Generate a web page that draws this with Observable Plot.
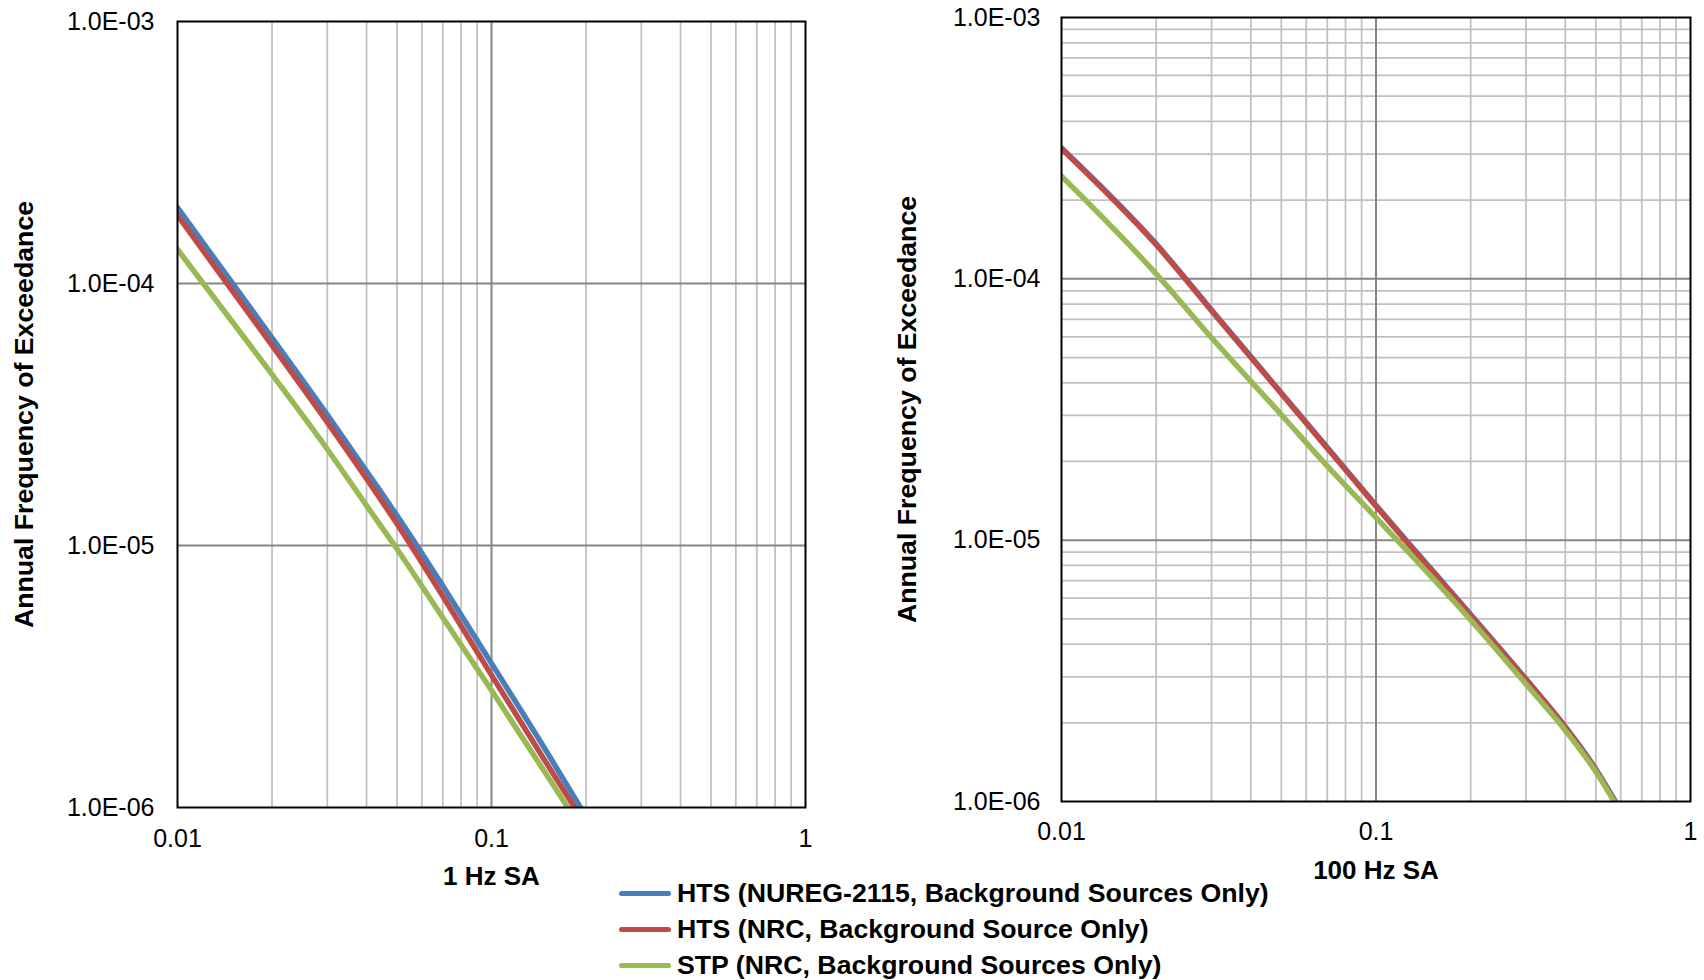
<!DOCTYPE html>
<html>
<head>
<meta charset="utf-8">
<script src="https://cdn.jsdelivr.net/npm/d3@7"></script>
<script src="https://cdn.jsdelivr.net/npm/@observablehq/plot@0.6"></script>
<style>
  html, body { margin: 0; padding: 0; background: #fff; }
  #wrap { position: relative; width: 1704px; height: 980px; font-family: "Liberation Sans", Arial, sans-serif; }
  #left, #right { position: absolute; top: 0; }
  #left { left: 0; }
  #right { left: 852px; }
  #legend { position: absolute; left: 619px; top: 875px; }
  .row { display: flex; align-items: center; height: 36px; }
  .sw { width: 52px; height: 5px; border-radius: 3px; margin-right: 6px; }
  .lt { font-size: 26.7px; font-weight: bold; color: #000; white-space: nowrap; }
</style>
</head>
<body>
<div id="wrap">
  <div id="left"></div>
  <div id="right"></div>
  <div id="legend"></div>
</div>
<script>
// ---- Data ----
const seriesNames = [
  "HTS (NUREG-2115, Background Sources Only)",
  "HTS (NRC, Background Source Only)",
  "STP (NRC, Background Sources Only)"
];
const seriesColors = ["#4a7ebb", "#be4b48", "#98b954"];

// Left panel: 1 Hz SA
const hz1BlueX  = [0.01, 0.02, 0.03, 0.04, 0.05, 0.07, 0.1, 0.15, 0.192];
const hz1BlueY  = [1.95e-4, 6.2e-5, 3.15e-5, 1.92e-5, 1.3e-5, 7.0e-6, 3.55e-6, 1.63e-6, 1.0e-6];
const hz1RedX   = [0.01, 0.02, 0.03, 0.04, 0.05, 0.07, 0.1, 0.15, 0.184];
const hz1RedY   = [1.82e-4, 5.8e-5, 2.95e-5, 1.8e-5, 1.21e-5, 6.4e-6, 3.2e-6, 1.47e-6, 1.0e-6];
const hz1GreenX = [0.01, 0.02, 0.03, 0.04, 0.05, 0.07, 0.1, 0.15, 0.175];
const hz1GreenY = [1.35e-4, 4.5e-5, 2.33e-5, 1.42e-5, 9.7e-6, 5.3e-6, 2.8e-6, 1.33e-6, 1.0e-6];

// Right panel: 100 Hz SA
const hz100BlueX  = [0.01, 0.02, 0.03, 0.05, 0.07, 0.1, 0.2, 0.3, 0.4, 0.5, 0.577];
const hz100BlueY  = [3.17e-4, 1.36e-4, 7.6e-5, 3.66e-5, 2.26e-5, 1.36e-5, 5.19e-6, 2.94e-6, 1.93e-6, 1.33e-6, 1.0e-6];
const hz100RedX   = [0.01, 0.02, 0.03, 0.05, 0.07, 0.1, 0.2, 0.3, 0.4, 0.5, 0.575];
const hz100RedY   = [3.15e-4, 1.35e-4, 7.55e-5, 3.64e-5, 2.25e-5, 1.35e-5, 5.15e-6, 2.92e-6, 1.92e-6, 1.32e-6, 1.0e-6];
const hz100GreenX = [0.01, 0.02, 0.03, 0.05, 0.07, 0.1, 0.2, 0.3, 0.4, 0.5, 0.572];
const hz100GreenY = [2.47e-4, 1.045e-4, 5.95e-5, 3.02e-5, 1.92e-5, 1.22e-5, 4.95e-6, 2.81e-6, 1.87e-6, 1.3e-6, 1.0e-6];

const xTicks = [0.01, 0.1, 1];
const yTicks = [1e-6, 1e-5, 1e-4, 1e-3];
const xMinor = [0.02, 0.03, 0.04, 0.05, 0.06, 0.07, 0.08, 0.09, 0.2, 0.3, 0.4, 0.5, 0.6, 0.7, 0.8, 0.9];
const yMinor = [2e-6, 3e-6, 4e-6, 5e-6, 6e-6, 7e-6, 8e-6, 9e-6,
                2e-5, 3e-5, 4e-5, 5e-5, 6e-5, 7e-5, 8e-5, 9e-5,
                2e-4, 3e-4, 4e-4, 5e-4, 6e-4, 7e-4, 8e-4, 9e-4];
const yTitle = "Annual Frequency of Exceedance";

// ---- Helpers ----
function zip(xs, ys) { return xs.map((x, i) => ({x, y: ys[i]})); }
function expFmt(d) {
  const [m, e] = d.toExponential(1).split("e");
  const sign = e[0] === "-" ? "-" : "+";
  const digits = e.replace(/[+-]/, "").padStart(2, "0");
  return m + "E" + sign + digits;
}

function panel({series, xTitle, minorY, margins, titleDx, labelPad}) {
  const marks = [
    Plot.ruleX(xMinor, {stroke: "#c0c0c0", strokeWidth: 1.75}),
  ];
  if (minorY) marks.push(Plot.ruleY(yMinor, {stroke: "#c0c0c0", strokeWidth: 1.75}));
  marks.push(
    Plot.ruleX([0.1], {stroke: "#868686", strokeWidth: 2}),
    Plot.ruleY([1e-5, 1e-4], {stroke: "#868686", strokeWidth: 2})
  );
  series.forEach((s, i) => {
    marks.push(Plot.line(zip(s[0], s[1]), {x: "x", y: "y", stroke: seriesColors[i], strokeWidth: 5.5, curve: "monotone-x", clip: true}));
  });
  marks.push(
    Plot.frame({stroke: "#000", strokeWidth: 2}),
    Plot.axisY({ticks: yTicks, tickFormat: expFmt, tickSize: 0, tickPadding: labelPad.y, fontSize: 25, label: null}),
    Plot.axisX({ticks: xTicks, tickFormat: d => String(d), tickSize: 0, tickPadding: labelPad.x, fontSize: 25, label: null}),
    Plot.text([xTitle], {frameAnchor: "bottom", lineAnchor: "middle", textAnchor: "middle", dy: labelPad.title, fontSize: 26, fontWeight: "bold", fill: "#000"}),
    Plot.text([yTitle], {frameAnchor: "left", lineAnchor: "middle", textAnchor: "middle", rotate: -90, dx: titleDx, fontSize: 26.7, fontWeight: "bold", fill: "#000"})
  );
  return Plot.plot({
    width: 852,
    height: 900,
    ...margins,
    style: {fontFamily: "'Liberation Sans', Arial, sans-serif", color: "#000", background: "transparent", overflow: "visible"},
    x: {type: "log", domain: [0.01, 1]},
    y: {type: "log", domain: [1e-6, 1e-3]},
    marks
  });
}

document.getElementById("left").appendChild(panel({
  series: [[hz1BlueX, hz1BlueY], [hz1RedX, hz1RedY], [hz1GreenX, hz1GreenY]],
  xTitle: "1 Hz SA",
  minorY: false,
  margins: {marginLeft: 177, marginRight: 47, marginTop: 21, marginBottom: 93},
  titleDx: -153,
  labelPad: {x: 22, y: 23, title: 69}
}));

document.getElementById("right").appendChild(panel({
  series: [[hz100BlueX, hz100BlueY], [hz100RedX, hz100RedY], [hz100GreenX, hz100GreenY]],
  xTitle: "100 Hz SA",
  minorY: true,
  margins: {marginLeft: 209, marginRight: 14, marginTop: 17, marginBottom: 99},
  titleDx: -154,
  labelPad: {x: 21, y: 21, title: 69}
}));

// ---- Legend ----
const legend = document.getElementById("legend");
seriesNames.forEach((name, i) => {
  const row = document.createElement("div");
  row.className = "row";
  const sw = document.createElement("div");
  sw.className = "sw";
  sw.style.background = seriesColors[i];
  const lt = document.createElement("div");
  lt.className = "lt";
  lt.textContent = name;
  row.appendChild(sw);
  row.appendChild(lt);
  legend.appendChild(row);
});
</script>
</body>
</html>
